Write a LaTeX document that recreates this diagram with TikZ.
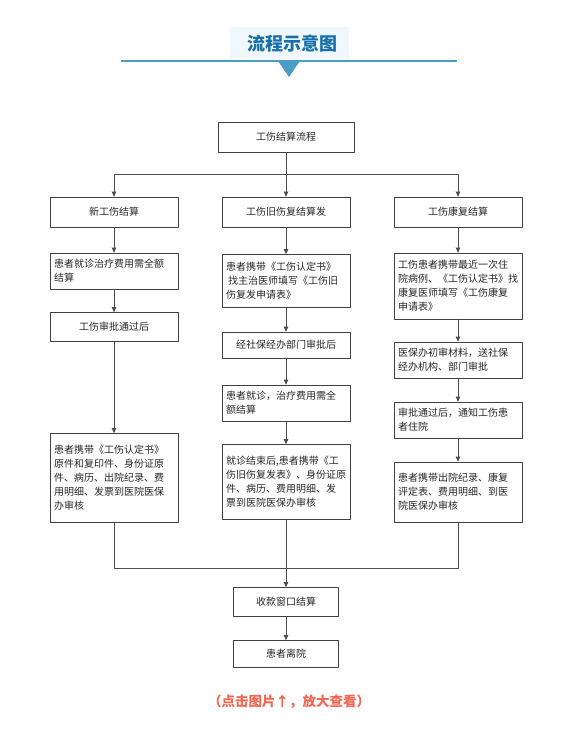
\documentclass[tikz,border=0pt]{standalone}
\usepackage{fontspec}
\newfontfamily\cjk{Noto Sans CJK SC}
\usetikzlibrary{arrows.meta}
\definecolor{titleblue}{RGB}{24,112,170}
\definecolor{titlebg}{RGB}{240,247,253}
\definecolor{ruleblue}{RGB}{74,157,198}
\definecolor{hintred}{RGB}{240,104,82}
\tikzset{
  procbox/.style={draw=black!75, line width=.7pt, inner xsep=4pt, inner ysep=2pt,
    align=left, text width=120pt, text=black!85, font=\cjk\fontsize{10}{14}\selectfont},
  flow/.style={draw=black!70, line width=.7pt},
}
\begin{document}
\begin{tikzpicture}[x=1pt, y=-1pt, line join=round, >={Triangle[length=5pt,width=4.5pt]}]
\useasboundingbox (0,0) rectangle (581,739);
% title
\fill[titlebg] (230,27) rectangle (349,59);
\node[font=\cjk\bfseries\fontsize{18}{18}\selectfont, text=titleblue] (title) at (292,44) {流程示意图};
\draw[ruleblue, line width=2pt] (121,61) -- (457,61);
\fill[ruleblue] (278,61) -- (300,61) -- (289,77) -- cycle;

% boxes
\node[procbox, text width=128pt, align=center, minimum height=30pt] (main) at (286,137) {工伤结算流程};
\node[procbox, align=center, minimum height=30pt] (new) at (114,212) {新工伤结算};
\node[procbox, align=center, minimum height=30pt] (old) at (286,212) {工伤旧伤复结算发};
\node[procbox, align=center, minimum height=30pt] (rehab) at (458,212) {工伤康复结算};

\node[procbox, minimum height=36pt] (new1) at (114,271) {患者就诊治疗费用需全额\\结算};
\node[procbox, align=center, minimum height=29pt] (new2) at (114,327) {工伤审批通过后};
\node[procbox, minimum height=89pt] (new3) at (114,478) {患者携带《工伤认定书》\\原件和复印件、身份证原\\件、病历、出院纪录、费\\用明细、发票到医院医保\\办审核};

\node[procbox, minimum height=53pt] (old1) at (286,281) {患者携带《工伤认定书》\\\hspace{2pt}找主治医师填写《工伤旧\\伤复发申请表》};
\node[procbox, align=center, minimum height=26pt] (old2) at (286,345) {经社保经办部门审批后};
\node[procbox, minimum height=36pt] (old3) at (286,403) {患者就诊，治疗费用需全\\额结算};
\node[procbox, minimum height=75pt] (old4) at (286,482) {就诊结束后,患者携带《工\\伤旧伤复发表》、身份证原\\件、病历、费用明细、发\\票到医院医保办审核};

\node[procbox, minimum height=66pt] (reh1) at (458,286) {工伤患者携带最近一次住\\院病例、《工伤认定书》找\\康复医师填写《工伤康复\\申请表》};
\node[procbox, minimum height=36pt] (reh2) at (458,360) {医保办初审材料，送社保\\经办机构、部门审批};
\node[procbox, minimum height=36pt] (reh3) at (458,420) {审批通过后，通知工伤患\\者住院};
\node[procbox, minimum height=60pt] (reh4) at (458,492) {患者携带出院纪录、康复\\评定表、费用明细、到医\\院医保办审核};

\node[procbox, text width=97pt, align=center, minimum height=29pt] (pay) at (286,602) {收款窗口结算};
\node[procbox, text width=97pt, align=center, minimum height=27pt] (leave) at (286,654) {患者离院};

% connectors
\draw[flow, ->] (main) -- (old);
\draw[flow, ->] (main.south) -- ++(0,22) -| (new.north);
\draw[flow, ->] (main.south) -- ++(0,22) -| (rehab.north);
\foreach \a/\b in {new/new1, new1/new2, new2/new3, old/old1, old1/old2, old2/old3,
  old3/old4, rehab/reh1, reh1/reh2, reh2/reh3, reh3/reh4, pay/leave}
  \draw[flow, ->] (\a) -- (\b);
\coordinate (merge) at (286,568);
\draw[flow] (new3.south) -- (new3.south |- merge) -- (reh4.south |- merge) -- (reh4.south);
\draw[flow, ->] (old4) -- (pay);

% hint
\node[font=\cjk\bfseries\fontsize{13.5}{14}\selectfont, text=hintred] (hint) at (289,702) {（点击图片↑，放大查看）};
\end{tikzpicture}
\end{document}
